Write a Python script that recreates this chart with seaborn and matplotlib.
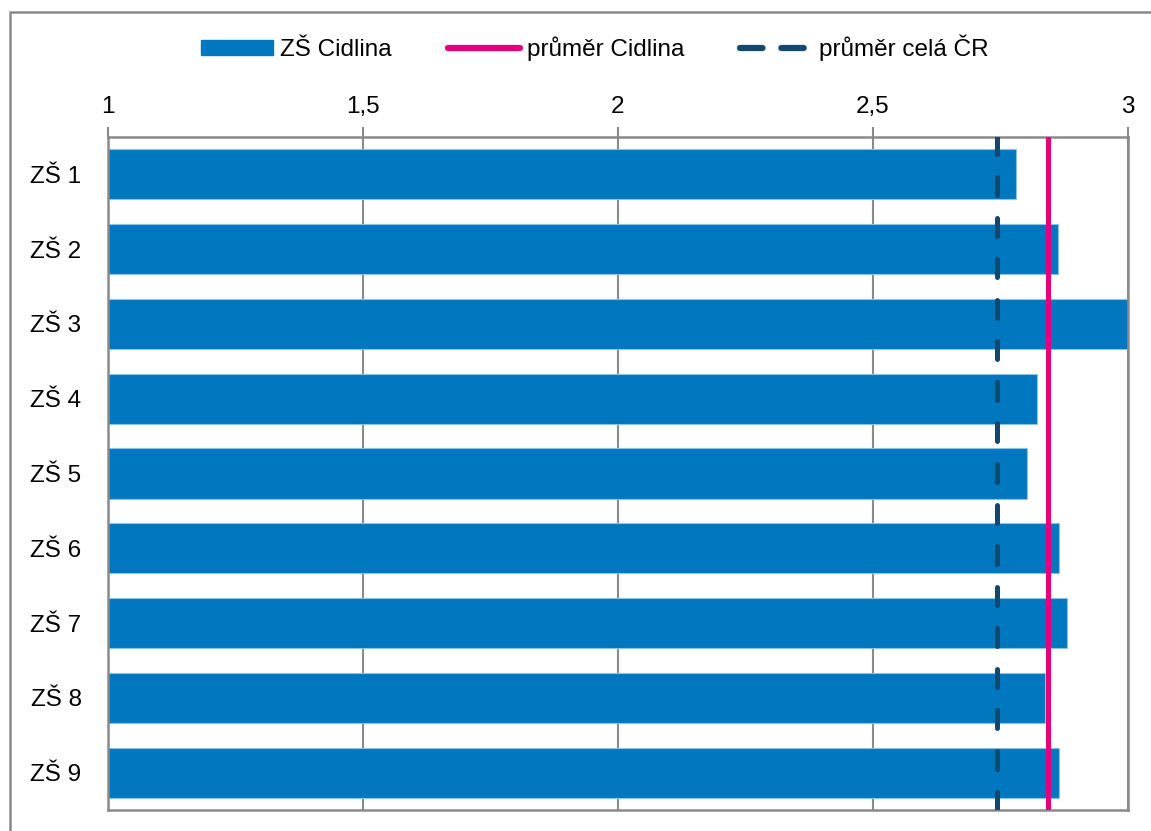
import numpy as np
import pandas as pd
import matplotlib.pyplot as plt
import seaborn as sns
from matplotlib.patches import Patch, Rectangle
from matplotlib.lines import Line2D

# %% data
schools = ["ZŠ 1", "ZŠ 2", "ZŠ 3", "ZŠ 4", "ZŠ 5", "ZŠ 6", "ZŠ 7", "ZŠ 8", "ZŠ 9"]
scores = [2.78, 2.862, 3.0, 2.822, 2.802, 2.865, 2.881, 2.838, 2.865]
avg_cidlina = 2.843
avg_cr = 2.743
xticks = [1, 1.5, 2, 2.5, 3]
xtick_labels = ["1", "1,5", "2", "2,5", "3"]

df = pd.DataFrame({"school": schools, "score": scores})

bar_color = "#0077BE"
pink = "#E5007D"
navy = "#13476F"
gray = "#8A8A8A"

# %% plot
sns.set_style("white")
plt.rcParams["font.family"] = ["Liberation Sans", "DejaVu Sans"]
plt.rcParams["text.color"] = "black"
plt.rcParams["xtick.labelcolor"] = "black"
plt.rcParams["ytick.labelcolor"] = "black"
fs = 17.5

fig = plt.figure(figsize=(11.51, 8.31), dpi=100)
ax = fig.add_axes([108 / 1151, 1 - 810 / 831, 1020 / 1151, 673 / 831])

sns.barplot(data=df, x="score", y="school", orient="h", color=bar_color,
            saturation=1, width=0.67, edgecolor="#8cc2e6", linewidth=0.8, ax=ax)

ax.axvline(avg_cidlina, color=pink, lw=3.6, zorder=4)
ax.axvline(avg_cr, color=navy, lw=3.6, dashes=(3.6, 4.6), dash_capstyle="round", zorder=5)

ax.set_xlim(1, 3)
ax.set_ylim(len(schools) - 0.5, -0.5)
ax.set_xlabel("")
ax.set_ylabel("")

ax.xaxis.tick_top()
ax.set_xticks(xticks)
ax.set_xticklabels(xtick_labels)
ax.tick_params(axis="x", direction="out", length=7, width=1.5, color=gray, pad=7, labelsize=fs)
ax.tick_params(axis="y", which="major", length=0, pad=19, labelsize=fs)
ax.set_yticks(np.arange(len(schools) + 1) - 0.5, minor=True)
ax.tick_params(axis="y", which="minor", direction="out", length=8, width=1.5, color=gray)

ax.grid(axis="x", color=gray, lw=1.5)
ax.set_axisbelow(True)
for s in ax.spines.values():
    s.set_visible(True)
    s.set_color(gray)
    s.set_linewidth(1.8)

# outer chart border (cut off at right and bottom)
fig.add_artist(Rectangle((10 / 1151, -0.1), 2, 1 - 12 / 831 + 0.1, fill=False,
                         ec=gray, lw=1.8, transform=fig.transFigure))

handles = [Patch(facecolor=bar_color, edgecolor=bar_color),
           Line2D([], [], color=pink, lw=4.5, solid_capstyle="round"),
           Line2D([], [], color=navy, lw=4.5, dashes=(3.6, 3.0), dash_capstyle="round")]
fig.legend(handles, ["ZŠ Cidlina", "průměr Cidlina", "průměr celá ČR"],
           loc="center", bbox_to_anchor=(0.517, 1 - 48 / 831), ncol=3, frameon=False,
           fontsize=fs, handlelength=2.95, handleheight=0.6, handletextpad=0.3, columnspacing=2.3)

fig.savefig("out.png", dpi=100)
